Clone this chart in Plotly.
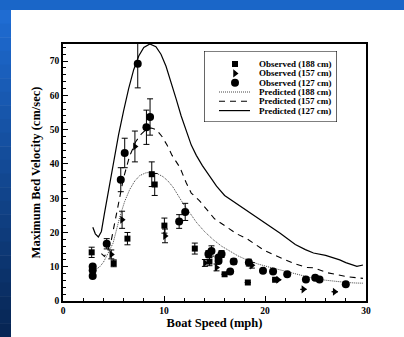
import plotly.graph_objects as go

# ---------------- data ----------------
obs188_x = [2.84, 5.02, 6.38, 8.79, 9.08, 10.04, 13.05, 14.5, 16.0, 18.3, 21.0]
obs188_y = [14.2, 11.0, 18.2, 37.0, 34.0, 22.0, 15.3, 11.5, 7.8, 5.4, 6.2]
obs188_e = [1.5, 1.0, 1.8, 3.6, 3.2, 2.2, 1.6, 1.2, 0, 0, 0]

obs157_x = [4.78, 5.85, 7.12, 10.1, 14.05, 15.2, 18.7, 21.3, 23.8, 26.9]
obs157_y = [13.6, 23.7, 45.1, 19.0, 11.1, 9.8, 10.4, 6.2, 3.4, 2.7]
obs157_e = [1.3, 2.5, 4.5, 2.0, 1.0, 1.0, 0.8, 0, 0, 0]

obs127_x = [2.94, 2.94, 2.94, 4.33, 5.72, 6.11, 7.4, 8.26, 8.62, 11.5, 12.1,
            14.4, 14.7, 15.4, 15.7, 15.4, 16.9, 16.55, 18.4, 19.8, 20.8, 22.2,
            24.05, 24.97, 25.4, 28.0]
obs127_y = [10.1, 7.3, 9.0, 16.7, 35.4, 43.2, 69.2, 50.7, 53.7, 23.2, 26.0,
            13.7, 14.6, 12.7, 13.7, 11.7, 11.5, 8.6, 11.2, 8.8, 8.6, 7.8,
            6.3, 6.8, 6.3, 4.9]
obs127_e = [0, 0, 0, 1.5, 3.5, 4.3, 7.0, 5.0, 5.3, 2.0, 2.5,
            1.0, 1.5, 0, 1.0, 0, 0.8, 0, 1.0, 0, 0, 0,
            0, 0, 0, 0]

pred188_x = [2.95, 3.3, 3.64, 4.0, 4.3, 4.96, 5.62, 6.1, 6.6, 7.1, 7.6, 8.2, 8.76,
             9.3, 9.9, 10.4, 10.9, 11.4, 11.9, 12.56, 13.2, 14.0, 14.87, 15.7,
             16.5, 17.3, 18.2, 19.3, 20.4, 21.5, 22.6, 23.7, 24.8, 25.9, 27.0,
             28.1, 29.0, 29.7]
pred188_y = [9.0, 9.3, 10.0, 11.3, 13.0, 16.9, 24.5, 29.0, 32.5, 35.0, 36.6, 37.4,
             37.6, 37.2, 36.3, 35.0, 33.2, 30.8, 28.4, 25.7, 23.0, 20.3, 17.9,
             16.0, 14.6, 13.2, 12.0, 10.8, 9.9, 9.1, 8.3, 7.3, 6.6, 6.1, 5.7,
             5.4, 5.25, 5.2]

pred157_x = [3.8, 4.1, 4.4, 4.8, 5.2, 5.6, 6.0, 6.6, 7.2, 7.77, 8.3, 8.76, 9.25,
             9.8, 10.3, 10.8, 11.57, 12.2, 12.7, 13.5, 14.2, 15.0, 16.0, 16.5,
             17.2, 18.2, 19.0, 19.8, 21.0, 22.1, 23.0, 24.1, 24.8, 26.1, 27.0,
             28.1, 29.0, 29.7]
pred157_y = [13.8, 13.0, 14.5, 18.0, 24.0, 30.0, 36.0, 42.3, 46.5, 48.8, 50.2,
             50.5, 50.0, 48.0, 45.5, 42.5, 39.0, 34.5, 31.5, 29.3, 26.7, 24.0,
             22.0, 21.0, 19.6, 18.2, 16.5, 15.0, 13.3, 12.0, 10.8, 9.8, 9.7,
             8.3, 7.7, 7.1, 6.8, 6.6]

pred127_x = [2.95, 3.2, 3.5, 3.8, 4.1, 4.6, 5.0, 5.5, 6.0, 6.5, 7.0, 7.5, 8.0,
             8.6, 9.2, 9.7, 10.2, 10.7, 11.2, 11.7, 12.2, 12.7, 13.2, 13.8, 14.5,
             15.2, 16.0, 17.0, 18.0, 19.0, 20.0, 21.0, 21.5, 22.0, 23.0, 24.0,
             24.8, 26.0, 27.0, 27.4, 28.0, 28.7, 29.1, 29.7]
pred127_y = [21.5, 19.6, 18.7, 20.3, 25.5, 34.0, 40.5, 48.5, 55.5, 62.0, 67.5,
             71.5, 74.0, 75.0, 74.2, 72.0, 68.5, 64.0, 59.0, 54.0, 49.5, 45.5,
             42.5, 39.5, 36.5, 33.5, 30.8, 28.8, 27.0, 25.0, 23.0, 21.0, 19.8,
             18.7, 16.5, 15.0, 14.0, 13.3, 12.4, 12.0, 11.2, 10.4, 10.1, 10.5]

legend_labels = ["Observed (188 cm)", "Observed (157 cm)", "Observed (127 cm)",
                 "Predicted (188 cm)", "Predicted (157 cm)", "Predicted (127 cm)"]
x_ticks = [0, 10, 20, 30]
y_ticks = [0, 10, 20, 30, 40, 50, 60, 70]

# ---------------- figure ----------------
W, H = 404, 337
L, R, T, B = 63, 38, 44, 36
pw, ph = W - L - R, H - T - B

def px2paper_x(px):
    return (px - L) / pw

def px2paper_y(py):
    return (H - B - py) / ph

SERIF = "Liberation Serif"
fig = go.Figure()

def err(arr):
    return dict(type="data", array=arr, visible=True, color="black",
                thickness=1, width=3)

fig.add_trace(go.Scatter(x=pred188_x, y=pred188_y, mode="lines",
                         line=dict(color="#444444", width=1, dash="1px,1px"),
                         showlegend=False))
fig.add_trace(go.Scatter(x=pred157_x, y=pred157_y, mode="lines",
                         line=dict(color="black", width=1.1, dash="6px,5px"),
                         showlegend=False))
fig.add_trace(go.Scatter(x=pred127_x, y=pred127_y, mode="lines",
                         line=dict(color="black", width=1.2),
                         showlegend=False))
fig.add_trace(go.Scatter(x=obs188_x, y=obs188_y, mode="markers",
                         marker=dict(symbol="square", size=6, color="black"),
                         error_y=err(obs188_e), showlegend=False))
fig.add_trace(go.Scatter(x=obs157_x, y=obs157_y, mode="markers",
                         marker=dict(symbol="triangle-right", size=7, color="black"),
                         error_y=err(obs157_e), showlegend=False))
fig.add_trace(go.Scatter(x=obs127_x, y=obs127_y, mode="markers",
                         marker=dict(symbol="circle", size=8, color="black"),
                         error_y=err(obs127_e), showlegend=False))

# ---- manual legend on an overlay axis (local pixel units) ----
lg_x0, lg_y0, lg_x1, lg_y1 = 204, 51, 337, 122
lg_rows = [13, 22.4, 31.7, 41, 50.3, 59.6]
lg_sym_x = 31
fig.add_shape(type="rect", xref="x2", yref="y2", x0=0, x1=lg_x1 - lg_x0,
              y0=0, y1=lg_y1 - lg_y0, line=dict(color="black", width=1.2),
              fillcolor="white", layer="below")
sym = [("square", 6), ("triangle-right", 7), ("circle", 8)]
for i in range(3):
    fig.add_trace(go.Scatter(x=[lg_sym_x], y=[lg_rows[i]], xaxis="x2", yaxis="y2",
                             mode="markers",
                             marker=dict(symbol=sym[i][0], size=sym[i][1], color="black"),
                             showlegend=False, hoverinfo="skip"))
line_styles = [dict(color="#444444", width=1, dash="1px,1px"),
               dict(color="black", width=1.1, dash="6px,5px"),
               dict(color="black", width=1.2)]
for i in range(3):
    fig.add_trace(go.Scatter(x=[15, 46], y=[lg_rows[3 + i]] * 2, xaxis="x2", yaxis="y2",
                             mode="lines", line=line_styles[i],
                             showlegend=False, hoverinfo="skip"))
for i, lab in enumerate(legend_labels):
    fig.add_annotation(x=53, y=lg_rows[i], xref="x2", yref="y2", text=lab,
                       showarrow=False, xanchor="left", yanchor="middle",
                       font=dict(family=SERIF, size=9, color="black", weight="bold"))

# ---- slide background decoration ----
shapes = []
shapes.append(dict(type="rect", xref="paper", yref="paper",
                   x0=px2paper_x(0), x1=px2paper_x(W), y0=px2paper_y(10), y1=px2paper_y(0),
                   fillcolor="#1a66c8", line=dict(width=0), layer="below"))
n = 24
c0 = (0x1f, 0x6c, 0xd2)
c1 = (0x07, 0x26, 0x55)
for k in range(n):
    t = k / (n - 1)
    c = tuple(int(c0[j] + (c1[j] - c0[j]) * t) for j in range(3))
    ya = 10 + (H - 10) * k / n
    yb = 10 + (H - 10) * (k + 1) / n
    shapes.append(dict(type="rect", xref="paper", yref="paper",
                       x0=px2paper_x(0), x1=px2paper_x(11),
                       y0=px2paper_y(yb + 0.5), y1=px2paper_y(ya),
                       fillcolor="rgb(%d,%d,%d)" % c, line=dict(width=0), layer="below"))
for s in shapes:
    fig.add_shape(**s)

tickfont = dict(family=SERIF, size=9.5, color="black", weight="bold")
titlefont = dict(family=SERIF, size=12.5, color="black", weight="bold")

fig.update_layout(
    width=W, height=H,
    margin=dict(l=L, r=R, t=T, b=B, pad=0),
    paper_bgcolor="white", plot_bgcolor="white",
    showlegend=False,
    xaxis=dict(range=[0, 30], tickvals=x_ticks, ticks="inside", ticklen=5,
               tickwidth=1, tickcolor="black",
               minor=dict(dtick=2, ticks="inside", ticklen=3, tickwidth=1,
                          tickcolor="black", showgrid=False),
               showgrid=False, zeroline=False, showline=True, linecolor="black",
               linewidth=1.5, mirror=True, tickfont=tickfont,
               title=dict(text="Boat Speed (mph)", font=titlefont, standoff=0)),
    yaxis=dict(range=[0, 75], tickvals=y_ticks, ticks="inside", ticklen=5,
               tickwidth=1, tickcolor="black",
               minor=dict(dtick=2, ticks="inside", ticklen=3, tickwidth=1,
                          tickcolor="black", showgrid=False),
               showgrid=False, zeroline=False, showline=True, linecolor="black",
               linewidth=1.5, mirror=True, tickfont=tickfont,
               title=dict(text="Maximum Bed Velocity (cm/sec)", font=titlefont,
                          standoff=6)),
    xaxis2=dict(domain=[px2paper_x(lg_x0), px2paper_x(lg_x1)], range=[0, lg_x1 - lg_x0],
                anchor="y2", visible=False, fixedrange=True),
    yaxis2=dict(domain=[px2paper_y(lg_y1), px2paper_y(lg_y0)], range=[lg_y1 - lg_y0, 0],
                anchor="x2", visible=False, fixedrange=True),
)

fig.write_html("out.html")
